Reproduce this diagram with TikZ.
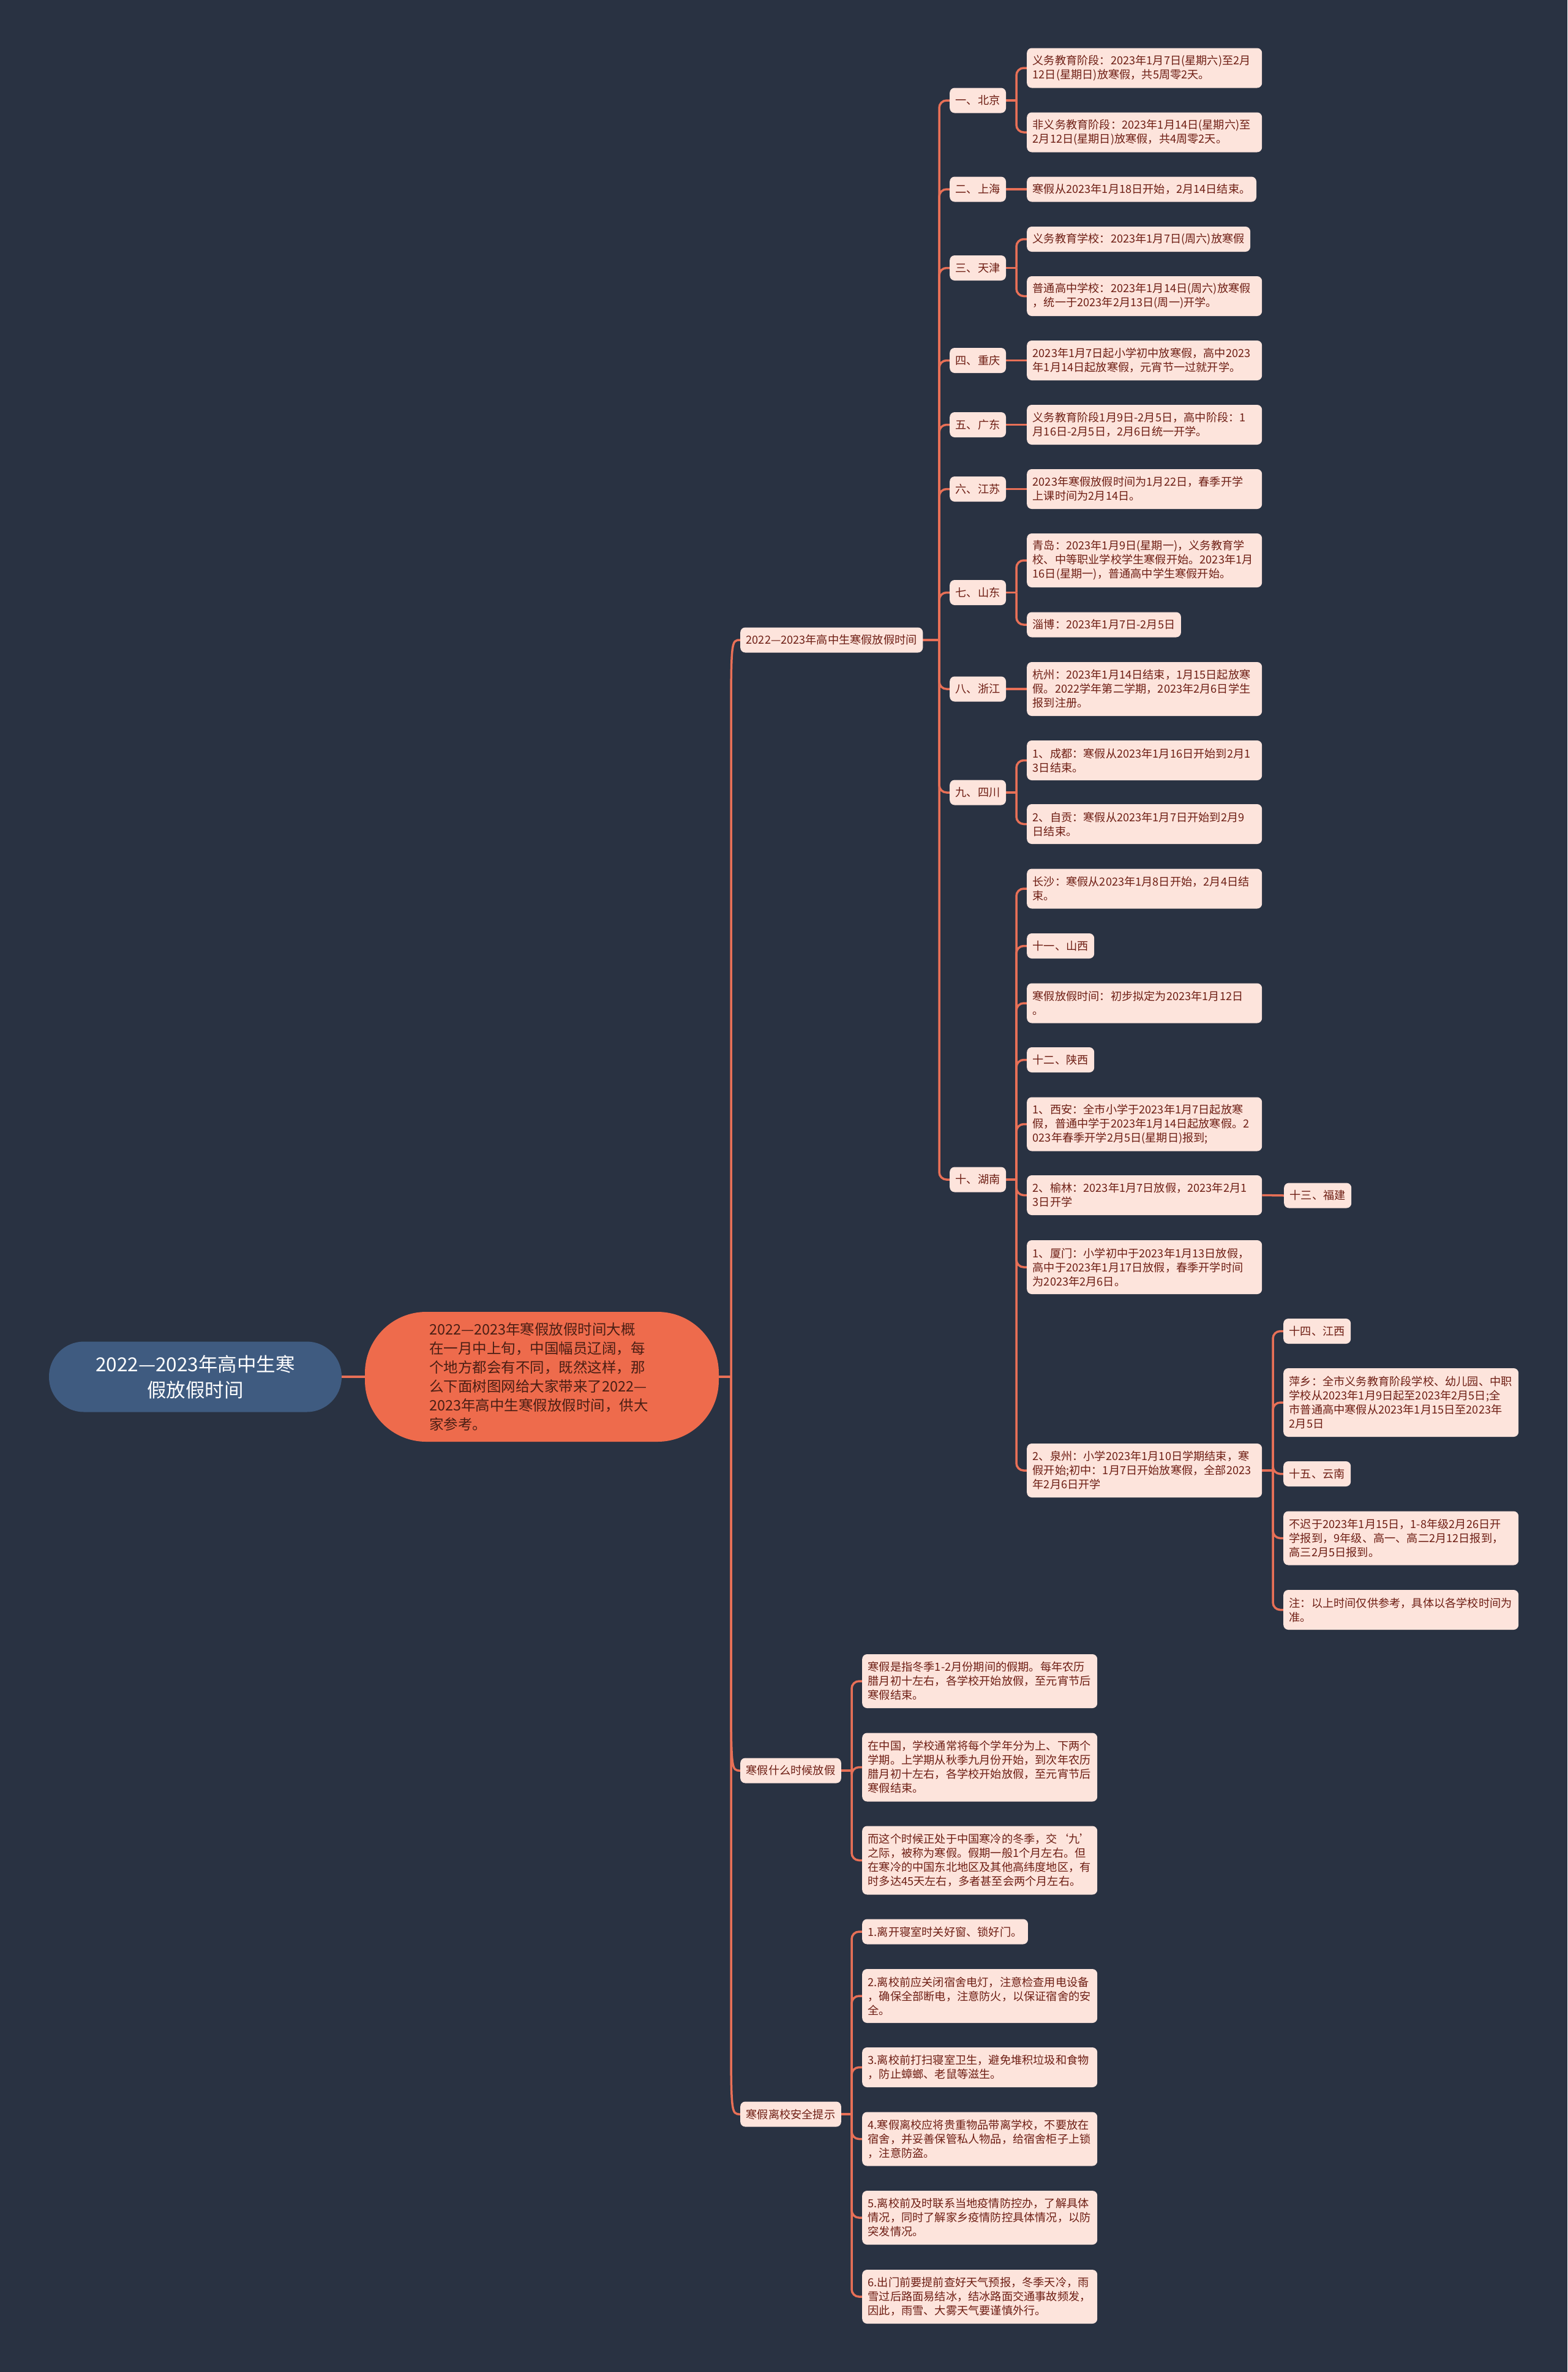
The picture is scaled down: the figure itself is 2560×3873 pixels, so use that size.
\documentclass[tikz,border=0pt]{standalone}
\usepackage{fontspec}
\setmainfont{Noto Sans CJK SC}
\usetikzlibrary{backgrounds,calc}
\definecolor{bgc}{RGB}{41,50,66}
\definecolor{lnc}{RGB}{232,112,87}
\definecolor{boxc}{RGB}{253,228,220}
\definecolor{txtc}{RGB}{110,30,20}
\definecolor{introc}{RGB}{238,107,76}
\definecolor{introt}{RGB}{74,30,20}
\definecolor{rootc}{RGB}{63,91,128}
\newcommand\fsS{\fontsize{18.2pt}{23pt}\selectfont}
\newcommand\fsM{\fontsize{23.5pt}{31pt}\selectfont}
\newcommand\fsL{\fontsize{31.5pt}{42pt}\selectfont}
\begin{document}
\begin{tikzpicture}[x=1pt,y=-1pt,
  lnk/.style={draw=lnc, line width=3.5pt, rounded corners=12pt},
  lnkc/.style={draw=lnc, line width=3.5pt},
  leaf/.style={fill=boxc, text=txtc, rounded corners=8pt, inner xsep=9.5pt, inner ysep=3pt, anchor=west, font=\fsS, align=left},
  wleaf/.style={leaf, text width=365pt},
  n1/.style={minimum height=41pt},
  n2/.style={minimum height=65pt},
  n3/.style={minimum height=88pt},
  n4/.style={minimum height=112pt},
  rootbox/.style={fill=rootc, text=white, font=\fsL, align=center, minimum width=478pt, minimum height=115pt, rounded corners=57pt, inner sep=0pt},
  introbox/.style={fill=introc, text=introt, font=\fsM, align=left, text width=368pt, minimum width=578pt, minimum height=212pt, rounded corners=100pt, inner sep=0pt}]
\useasboundingbox (0,0) rectangle (2560,3873);

% root and intro
\node[rootbox] (root) at (319,2248) {2022—2023年高中生寒\\假放假时间};
\node[introbox] (intro) at (885,2248) {2022—2023年寒假放假时间大概\\在一月中上旬，中国幅员辽阔，每\\个地方都会有不同，既然这样，那\\么下面树图网给大家带来了2022—\\2023年高中生寒假放假时间，供大\\家参考。};

% level 1
\node[leaf,n1] (A) at (1209,1045) {2022—2023年高中生寒假放假时间};
\node[leaf,n1] (B) at (1209,2891) {寒假什么时候放假};
\node[leaf,n1] (C) at (1209,3452) {寒假离校安全提示};

% provinces
\node[leaf,n1] (p1) at (1551,164) {一、北京};
\node[leaf,n1] (p2) at (1551,309) {二、上海};
\node[leaf,n1] (p3) at (1551,437.5) {三、天津};
\node[leaf,n1] (p4) at (1551,588.5) {四、重庆};
\node[leaf,n1] (p5) at (1551,693.5) {五、广东};
\node[leaf,n1] (p6) at (1551,798.5) {六、江苏};
\node[leaf,n1] (p7) at (1551,967.5) {七、山东};
\node[leaf,n1] (p8) at (1551,1125) {八、浙江};
\node[leaf,n1] (p9) at (1551,1294) {九、四川};
\node[leaf,n1] (p10) at (1551,1926) {十、湖南};

% province children
\node[wleaf,n2] (b1) at (1677,111) {义务教育阶段：2023年1月7日(星期六)至2月\\12日(星期日)放寒假，共5周零2天。};
\node[wleaf,n2] (b2) at (1677,216) {非义务教育阶段：2023年1月14日(星期六)至\\2月12日(星期日)放寒假，共4周零2天。};
\node[leaf,n1] (s1) at (1677,309) {寒假从2023年1月18日开始，2月14日结束。};
\node[leaf,n1] (t1) at (1677,390.5) {义务教育学校：2023年1月7日(周六)放寒假};
\node[wleaf,n2] (t2) at (1677,483.5) {普通高中学校：2023年1月14日(周六)放寒假\\，统一于2023年2月13日(周一)开学。};
\node[wleaf,n2] (cq) at (1677,588.5) {2023年1月7日起小学初中放寒假，高中2023\\年1月14日起放寒假，元宵节一过就开学。};
\node[wleaf,n2] (gd) at (1677,693.5) {义务教育阶段1月9日-2月5日，高中阶段：1\\月16日-2月5日，2月6日统一开学。};
\node[wleaf,n2] (js) at (1677,798.5) {2023年寒假放假时间为1月22日，春季开学\\上课时间为2月14日。};
\node[wleaf,n3] (sd1) at (1677,915) {青岛：2023年1月9日(星期一)，义务教育学\\校、中等职业学校学生寒假开始。2023年1月\\16日(星期一)，普通高中学生寒假开始。};
\node[leaf,n1] (sd2) at (1677,1020) {淄博：2023年1月7日-2月5日};
\node[wleaf,n3] (zj) at (1677,1125) {杭州：2023年1月14日结束，1月15日起放寒\\假。2022学年第二学期，2023年2月6日学生\\报到注册。};
\node[wleaf,n2] (sc1) at (1677,1241.5) {1、成都：寒假从2023年1月16日开始到2月1\\3日结束。};
\node[wleaf,n2] (sc2) at (1677,1345.5) {2、自贡：寒假从2023年1月7日开始到2月9\\日结束。};
\node[wleaf,n2] (hn1) at (1677,1451) {长沙：寒假从2023年1月8日开始，2月4日结\\束。};
\node[leaf,n1] (hn2) at (1677,1544.5) {十一、山西};
\node[wleaf,n2] (hn3) at (1677,1638) {寒假放假时间：初步拟定为2023年1月12日\\。};
\node[leaf,n1] (hn4) at (1677,1730.5) {十二、陕西};
\node[wleaf,n3] (hn5) at (1677,1835.5) {1、西安：全市小学于2023年1月7日起放寒\\假，普通中学于2023年1月14日起放寒假。2\\023年春季开学2月5日(星期日)报到;};
\node[wleaf,n2] (hn6) at (1677,1951.5) {2、榆林：2023年1月7日放假，2023年2月1\\3日开学};
\node[wleaf,n3] (hn7) at (1677,2069) {1、厦门：小学初中于2023年1月13日放假，\\高中于2023年1月17日放假，春季开学时间\\为2023年2月6日。};
\node[wleaf,n3] (hn8) at (1677,2401) {2、泉州：小学2023年1月10日学期结束，寒\\假开始;初中：1月7日开始放寒假，全部2023\\年2月6日开学};

\node[leaf,n1] (fj) at (2097,1952) {十三、福建};
\node[leaf,n1] (jx) at (2096,2173.5) {十四、江西};
\node[wleaf,n4] (px) at (2096,2290) {萍乡：全市义务教育阶段学校、幼儿园、中职\\学校从2023年1月9日起至2023年2月5日;全\\市普通高中寒假从2023年1月15日至2023年\\2月5日};
\node[leaf,n1] (yn) at (2096,2406.5) {十五、云南};
\node[wleaf,n3] (bc) at (2096,2511.5) {不迟于2023年1月15日，1-8年级2月26日开\\学报到，9年级、高一、高二2月12日报到，\\高三2月5日报到。};
\node[wleaf,n2] (zhu) at (2096,2628.5) {注：以上时间仅供参考，具体以各学校时间为\\准。};

% B children
\node[wleaf,n3] (w1) at (1408,2745) {寒假是指冬季1-2月份期间的假期。每年农历\\腊月初十左右，各学校开始放假，至元宵节后\\寒假结束。};
\node[wleaf,n4] (w2) at (1408,2885.5) {在中国，学校通常将每个学年分为上、下两个\\学期。上学期从秋季九月份开始，到次年农历\\腊月初十左右，各学校开始放假，至元宵节后\\寒假结束。};
\node[wleaf,n4] (w3) at (1408,3037.5) {而这个时候正处于中国寒冷的冬季，交‘九’\\之际，被称为寒假。假期一般1个月左右。但\\在寒冷的中国东北地区及其他高纬度地区，有\\时多达45天左右，多者甚至会两个月左右。};

% C children
\node[leaf,n1] (a1) at (1408,3154) {1.离开寝室时关好窗、锁好门。};
\node[wleaf,n3] (a2) at (1408,3259) {2.离校前应关闭宿舍电灯，注意检查用电设备\\，确保全部断电，注意防火，以保证宿舍的安\\全。};
\node[wleaf,n2] (a3) at (1408,3375.5) {3.离校前打扫寝室卫生，避免堆积垃圾和食物\\，防止蟑螂、老鼠等滋生。};
\node[wleaf,n3] (a4) at (1408,3492.5) {4.寒假离校应将贵重物品带离学校，不要放在\\宿舍，并妥善保管私人物品，给宿舍柜子上锁\\，注意防盗。};
\node[wleaf,n3] (a5) at (1408,3621) {5.离校前及时联系当地疫情防控办，了解具体\\情况，同时了解家乡疫情防控具体情况，以防\\突发情况。};
\node[wleaf,n3] (a6) at (1408,3750) {6.出门前要提前查好天气预报，冬季天冷，雨\\雪过后路面易结冰，结冰路面交通事故频发，\\因此，雨雪、大雾天气要谨慎外行。};

% junction coordinates
\coordinate (mj) at (1194,2248);
\coordinate (Aj) at (1534,1045);
\coordinate (Bj) at (1391,2891);
\coordinate (Cj) at (1391,3452);
\coordinate (p1j) at (1660,164);
\coordinate (p3j) at (1660,437.5);
\coordinate (p7j) at (1660,967.5);
\coordinate (p9j) at (1660,1294);
\coordinate (p10j) at (1660,1926);
\coordinate (qzj) at (2079,2401);

\begin{pgfonlayer}{background}
\fill[bgc] (0,0) rectangle (2560,3873);
\draw[lnkc] (root.east) -- (intro.west);
\draw[lnkc] (intro.east) -- (mj);
\draw[lnkc] (mj) -- ($(mj |- A.west)+(0,150)$) .. controls (mj |- A.west) .. (A.west);
\draw[lnkc] (mj) -- ($(mj |- B.west)+(0,-150)$) .. controls (mj |- B.west) .. (B.west);
\draw[lnkc] (mj) -- ($(mj |- C.west)+(0,-150)$) .. controls (mj |- C.west) .. (C.west);
% A branches
\draw[lnk] (A.east) -- (Aj);
\foreach \c in {p1,p2,p3,p4,p5,p6,p7,p8,p9,p10} \draw[lnk] (Aj) |- (\c.west);
% province children
\draw[lnk] (p1.east) -- (p1j);
\foreach \c in {b1,b2} \draw[lnk] (p1j) |- (\c.west);
\draw[lnk] (p2.east) -- (s1.west);
\draw[lnk] (p3.east) -- (p3j);
\foreach \c in {t1,t2} \draw[lnk] (p3j) |- (\c.west);
\draw[lnk] (p4.east) -- (cq.west);
\draw[lnk] (p5.east) -- (gd.west);
\draw[lnk] (p6.east) -- (js.west);
\draw[lnk] (p7.east) -- (p7j);
\foreach \c in {sd1,sd2} \draw[lnk] (p7j) |- (\c.west);
\draw[lnk] (p8.east) -- (zj.west);
\draw[lnk] (p9.east) -- (p9j);
\foreach \c in {sc1,sc2} \draw[lnk] (p9j) |- (\c.west);
\draw[lnk] (p10.east) -- (p10j);
\foreach \c in {hn1,hn2,hn3,hn4,hn5,hn6,hn7,hn8} \draw[lnk] (p10j) |- (\c.west);
\draw[lnk] (hn6.east) -- (fj.west);
\draw[lnk] (hn8.east) -- (qzj);
\foreach \c in {jx,px,yn,bc,zhu} \draw[lnk] (qzj) |- (\c.west);
% B and C branches
\draw[lnk] (B.east) -- (Bj);
\foreach \c in {w1,w2,w3} \draw[lnk] (Bj) |- (\c.west);
\draw[lnk] (C.east) -- (Cj);
\foreach \c in {a1,a2,a3,a4,a5,a6} \draw[lnk] (Cj) |- (\c.west);
\end{pgfonlayer}
\end{tikzpicture}
\end{document}
